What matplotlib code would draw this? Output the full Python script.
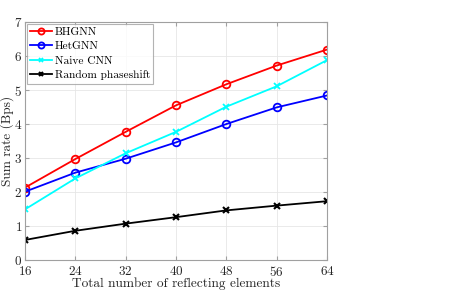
import matplotlib
matplotlib.use("Agg")
import matplotlib.pyplot as plt
from matplotlib.legend_handler import HandlerLine2D

x = [16, 24, 32, 40, 48, 56, 64]
bhgnn = [2.13, 2.97, 3.77, 4.55, 5.17, 5.72, 6.19]
hetgnn = [2.01, 2.57, 2.98, 3.46, 4.00, 4.49, 4.84]
cnn = [1.49, 2.40, 3.14, 3.77, 4.51, 5.11, 5.88]
rand = [0.59, 0.86, 1.07, 1.26, 1.46, 1.60, 1.73]

plt.rcParams['font.family'] = 'serif'
plt.rcParams['font.serif'] = ['cmr10', 'DejaVu Serif']
plt.rcParams['axes.formatter.use_mathtext'] = True

fig = plt.figure(figsize=(4.49, 2.94), dpi=100)
ax = fig.add_axes([0.0557, 0.1156, 0.6726, 0.8094])

lw = 1.3
ax.plot(x, bhgnn, '-o', color='red', lw=lw, ms=5.5, mfc='none', mew=1.3, label='BHGNN')
ax.plot(x, hetgnn, '-o', color='blue', lw=lw, ms=5.5, mfc='none', mew=1.3, label='HetGNN')
ax.plot(x, cnn, '-x', color='cyan', lw=lw, ms=4, mew=1.3, label='Naive CNN')
ax.plot(x, rand, '-x', color='black', lw=lw, ms=4, mew=1.5, label='Random phaseshift')

ax.set_xlim(16, 64)
ax.set_ylim(0, 7)
ax.set_xticks(x)
ax.set_yticks(range(0, 8))
ax.grid(True, color='#e6e6e6', lw=0.6)
ax.set_axisbelow(True)
for s in ax.spines.values():
    s.set_color('#a0a0a0')
    s.set_linewidth(0.8)
ax.tick_params(direction='in', length=3, color='#a0a0a0', labelsize=9.5, labelcolor='#262626',
               top=True, right=True, pad=2)
ax.tick_params(axis='x', pad=3.5)
ax.set_xlabel('Total number of reflecting elements', fontsize=9.6, color='#262626', labelpad=-1)
ax.set_ylabel('Sum rate (Bps)', fontsize=9.6, color='#262626', labelpad=0)


class SmallMarker(HandlerLine2D):
    def create_artists(self, legend, orig_handle, xdescent, ydescent, width, height, fontsize, trans):
        arts = super().create_artists(legend, orig_handle, xdescent, ydescent, width, height, fontsize, trans)
        for a in arts:
            if a.get_marker() not in (None, 'None', ''):
                a.set_markersize(a.get_markersize() * 0.8)
        return arts


leg = ax.legend(loc='upper left', fontsize=8.2, frameon=True, fancybox=False,
                borderaxespad=0.15, handlelength=1.9, handletextpad=0.25,
                borderpad=0.3, labelspacing=0.38,
                handler_map={ax.lines[i]: SmallMarker() for i in range(4)})
leg.get_frame().set_edgecolor('#a0a0a0')
leg.get_frame().set_linewidth(0.8)

fig.savefig('out.png', dpi=100)
